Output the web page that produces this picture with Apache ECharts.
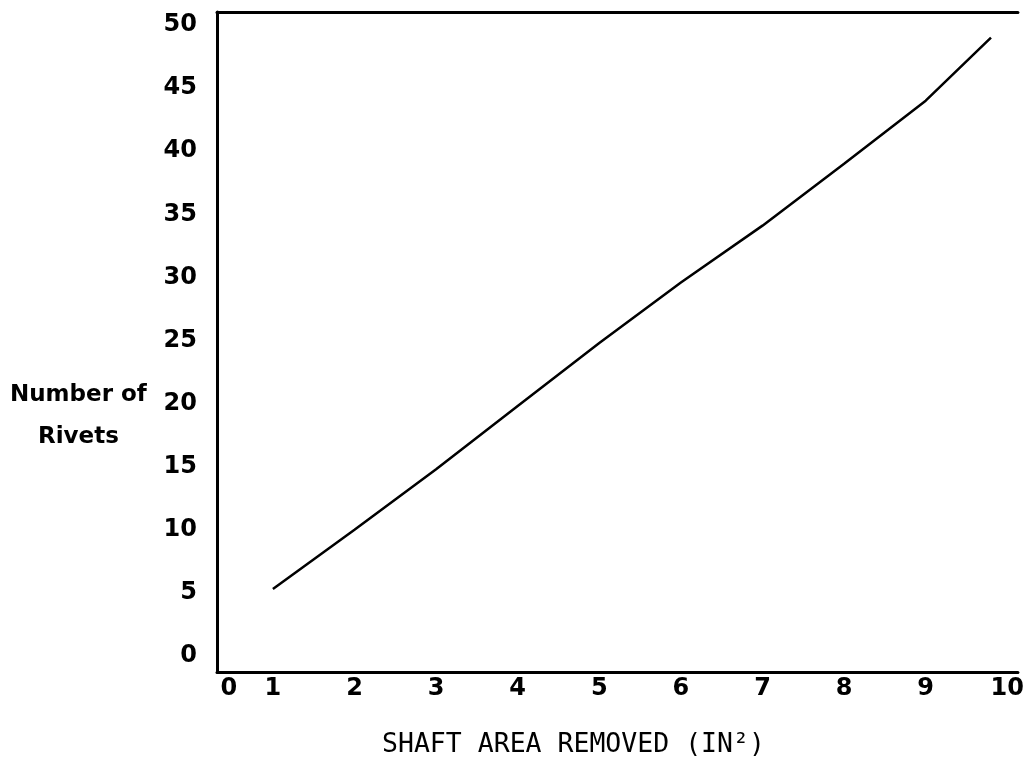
<!DOCTYPE html>
<html>
<head>
<meta charset="utf-8">
<script src="https://cdn.jsdelivr.net/npm/echarts@6/dist/echarts.min.js"></script>
<style>
  html, body { margin: 0; padding: 0; background: #fff; }
  #chart { width: 1027px; height: 775px; }
</style>
</head>
<body>
<div id="chart"></div>
<script>
// shaft area removed (in^2) vs number of rivets
const shaftArea = [1, 2, 3, 4, 5, 6, 7, 8, 9, 9.8];
const rivets = [5.3, 10, 14.8, 19.8, 24.8, 29.6, 34.1, 39, 44, 49];

// tick labels (the "0" on the x axis sits just right of the corner)
const xTickValues = [0.46, 1, 2, 3, 4, 5, 6, 7, 8, 9, 10];
const xTickLabels = ['0', '1', '2', '3', '4', '5', '6', '7', '8', '9', '10'];
const yTickValues = [0, 5, 10, 15, 20, 25, 30, 35, 40, 45, 50];

const font = 'DejaVu Sans';
const chart = echarts.init(document.getElementById('chart'));

const option = {
  backgroundColor: '#fff',
  animation: false,
  grid: { left: 217, right: 7, top: 12, bottom: 103 },
  xAxis: [{
    type: 'value',
    min: 0.315,
    max: 10.13,
    splitLine: { show: false },
    axisTick: { show: false },
    axisLine: { show: true, onZero: false, lineStyle: { color: '#000', width: 3 } },
    axisLabel: {
      customValues: xTickValues,
      formatter: v => xTickLabels[xTickValues.indexOf(v)],
      color: '#000', fontFamily: font, fontWeight: 'bold', fontSize: 24, margin: 5
    }
  }, {
    type: 'value',
    position: 'top',
    min: 0.315,
    max: 10.13,
    splitLine: { show: false },
    axisTick: { show: false },
    axisLabel: { show: false },
    axisLine: { show: true, onZero: false, lineStyle: { color: '#000', width: 3 } }
  }],
  yAxis: {
    type: 'value',
    min: -1.27,
    max: 51.03,
    splitLine: { show: false },
    axisTick: { show: false },
    axisLine: { show: true, onZero: false, lineStyle: { color: '#000', width: 3 } },
    axisLabel: {
      customValues: yTickValues,
      color: '#000', fontFamily: font, fontWeight: 'bold', fontSize: 24, margin: 20,
      padding: [6, 0, 0, 0]
    }
  },
  graphic: [
    {
      type: 'text', left: 10, top: 384,
      style: { text: 'Number of', font: 'bold 23px "DejaVu Sans"', fill: '#000' }
    },
    {
      type: 'text', left: 38, top: 426,
      style: { text: 'Rivets', font: 'bold 23px "DejaVu Sans"', fill: '#000' }
    },
    {
      type: 'text', left: 382, top: 732,
      style: { text: 'SHAFT AREA REMOVED (IN²)', font: '26.5px "DejaVu Sans Mono"', fill: '#000' }
    }
  ],
  series: [{
    type: 'line',
    data: shaftArea.map((x, i) => [x, rivets[i]]),
    showSymbol: false,
    lineStyle: { color: '#000', width: 2.5 }
  }]
};

chart.setOption(option);
</script>
</body>
</html>
